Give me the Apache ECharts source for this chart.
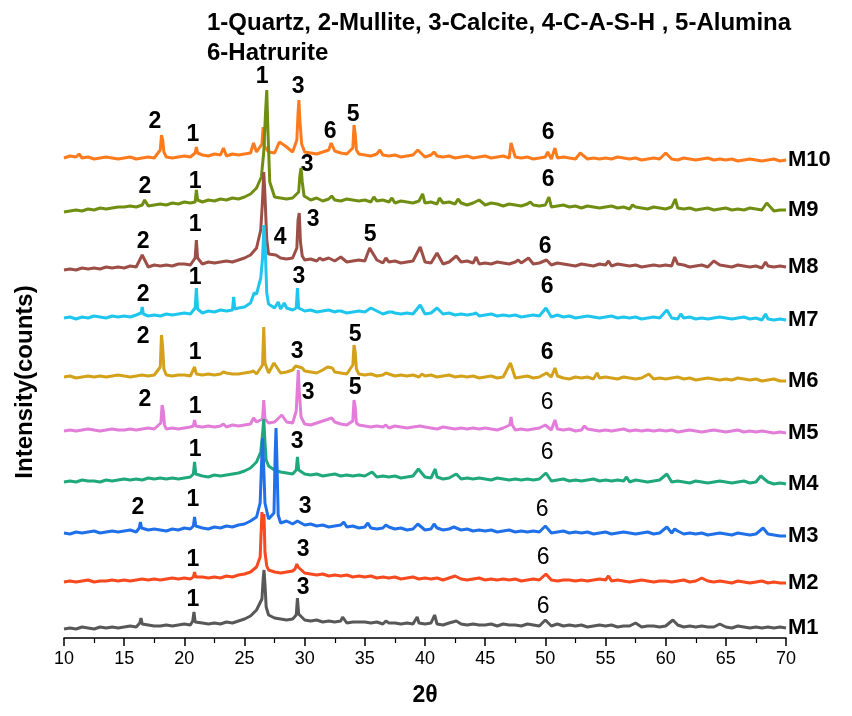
<!DOCTYPE html>
<html>
<head>
<meta charset="utf-8">
<title>XRD patterns M1-M10</title>
<script src="https://cdn.jsdelivr.net/npm/echarts@6/dist/echarts.min.js"></script>
<style>
  html, body { margin: 0; padding: 0; background: #fff; }
  #chart { width: 852px; height: 716px; }
</style>
</head>
<body>
<div id="chart"></div>
<script>
// 2-theta ticks
const xTicks = [10, 15, 20, 25, 30, 35, 40, 45, 50, 55, 60, 65, 70];

const names = ['M1', 'M2', 'M3', 'M4', 'M5', 'M6', 'M7', 'M8', 'M9', 'M10'];
const colors = ['#585858', '#f8491f', '#2070ea', '#1fa87b', '#e27dd9', '#d3a11a', '#1ec6ee', '#9d4e47', '#708f12', '#fd7b1d'];
// vertical stacking offset of each pattern
const offsets = [9, 56, 105, 156, 207, 261, 320, 368, 426, 480];

// background of each pattern, sampled every 0.5 deg from 10 to 70
const m1Base = [
  0,1,0,2,1,0,2,1,2,1, 2,3,2,3,4,3,3,4,3,4, 5,4,5,6,5,6,5,7,6,8, 10,13,19,24,14,11,10,9,10,8,
  9,8,9,7,8,7,8,6,7,7, 7,6,7,5,6,6,5,6,5,6, 5,6,5,4,6,4,5,4,5,4, 4,5,3,5,4,4,3,5,4,3,
  4,3,5,3,4,3,4,2,3,4, 3,4,2,3,3,4,2,3,3,2, 3,2,4,2,3,2,3,2,2,3, 2,1,3,2,1,2,1,2,1,2, 1];
const m2Base = [
  0,1,0,1,2,0,1,1,2,1, 2,1,2,3,2,3,2,3,4,3, 4,3,4,5,4,5,4,6,5,7, 8,10,15,20,12,10,9,10,11,13,
  9,8,7,8,6,7,6,7,5,6, 5,6,4,5,4,5,3,4,5,3, 4,3,4,2,4,3,3,2,3,4, 2,3,2,3,2,3,1,2,3,2,
  3,2,1,2,2,1,2,1,2,3, 2,1,2,1,0,1,2,1,0,1, 1,0,1,2,0,1,0,1,0,1, 0,-1,1,0,-1,0,1,-1,0,-1, -1];
const m3Base = [
  0,-1,1,0,1,2,0,1,2,1, 2,3,1,2,3,4,3,2,4,3, 5,4,6,5,4,6,5,7,6,8, 9,12,16,22,14,12,10,12,9,10,
  8,9,7,8,6,7,8,6,7,5, 6,5,4,5,6,4,5,3,4,5, 3,4,5,3,4,2,3,4,2,3, 2,3,1,2,3,1,2,1,2,1,
  2,0,1,2,0,1,0,1,-1,0, 1,-1,0,1,0,-1,0,1,-1,0, 1,0,2,-1,0,-1,0,-2,-1,0, -1,-2,0,-1,-2,-1,0,-1,-2,-3, -3];
const m4Base = [
  0,1,0,2,1,1,0,2,1,2, 3,2,3,2,4,3,4,3,4,3, 4,5,4,6,5,7,6,7,8,9, 11,14,20,26,16,12,10,9,8,9,
  8,7,8,6,7,8,6,7,6,7, 6,7,5,6,5,6,4,5,6,4, 5,4,5,3,4,5,3,4,3,4, 3,2,4,3,2,3,2,3,2,3,
  2,1,2,3,1,2,1,2,3,1, 2,1,2,1,0,2,1,0,1,2, 1,0,1,0,-1,1,0,-1,0,1, 0,-1,0,1,-1,0,-1,0,-2,-1, -2];
const m5Base = [
  0,1,0,1,2,1,0,1,2,1, 1,2,1,2,3,2,1,2,3,2, 3,4,3,4,5,4,5,4,6,5, 6,7,9,12,8,9,7,9,8,6,
  7,6,8,10,12,9,7,6,5,6, 5,4,5,4,3,5,4,3,4,3, 4,3,2,4,3,2,3,2,3,2, 3,2,1,3,2,1,2,1,2,3,
  2,1,2,1,2,0,1,2,1,0, 1,0,1,2,0,1,0,1,0,1, 0,1,-1,0,1,0,-1,0,1,0, -1,0,1,-1,0,-1,0,-1,-2,-1, -2];
const m6Base = [
  0,1,-1,0,1,0,1,0,1,2, 1,0,1,2,1,2,1,2,1,2, 2,1,3,2,3,2,3,4,3,3, 4,5,3,6,4,3,4,5,7,9,
  6,5,4,7,6,5,4,3,4,3, 2,3,1,2,3,1,2,1,2,0, 1,2,0,1,2,0,1,0,1,-1, 0,1,-1,0,1,-1,0,1,-1,0,
  -1,0,1,-1,-2,0,-1,0,-2,-1, 0,-1,-2,0,-1,-2,-1,0,-2,-1, -2,-1,0,-2,-1,-3,-2,-1,-2,-3, -2,-3,-1,-2,-3,-2,-4,-3,-2,-4, -4];
const m7Base = [
  0,1,-1,1,0,2,1,0,2,1, 2,1,3,2,2,3,2,4,3,4, 5,4,6,5,7,6,8,7,9,10, 11,15,24,32,14,10,9,10,8,9,
  7,8,6,7,8,6,7,5,6,7, 6,5,7,4,6,5,4,5,4,5, 4,5,3,4,5,3,4,3,4,2, 3,4,2,3,2,3,1,2,3,2,
  2,1,3,1,2,0,1,2,1,0, 1,2,0,1,0,1,-1,0,1,0, 1,0,-1,0,1,-1,0,-1,0,1, 0,-1,0,1,-1,0,-2,-1,-2,-1, -2];
const m8Base = [
  0,1,0,2,1,2,1,3,2,3, 2,4,3,4,3,5,4,5,4,6, 6,5,7,6,8,7,8,9,8,10, 12,15,22,30,16,13,12,11,12,14,
  10,11,9,10,12,9,10,8,9,10, 9,8,10,7,8,9,7,8,9,8, 8,7,9,6,8,7,8,9,7,6, 7,6,8,7,6,8,7,9,6,7,
  6,5,7,6,5,4,6,5,4,6, 5,4,6,5,4,5,3,4,5,4, 5,4,6,5,3,4,5,3,4,5, 4,3,5,4,3,4,2,4,3,4, 3];
const m9Base = [
  0,1,2,1,3,2,4,3,4,5, 5,6,5,7,6,7,8,7,9,8, 10,9,11,10,12,11,13,12,14,13, 15,18,24,30,18,15,14,13,14,16,
  13,12,14,11,13,12,11,13,12,11, 12,10,11,12,10,9,11,10,9,11, 9,10,8,9,10,8,9,7,9,8, 7,9,8,6,8,7,6,8,7,6,
  7,5,6,7,5,6,4,6,5,4, 5,6,4,5,3,5,4,3,5,4, 3,5,4,3,4,2,3,4,2,3, 4,2,3,2,4,3,2,3,1,2, 2];
const m10Base = [
  0,2,1,0,1,-1,0,1,0,-1, 0,1,-1,0,1,0,2,1,0,1, 2,1,2,3,2,4,3,2,4,3, 4,5,6,8,6,5,7,8,6,7,
  6,5,4,6,8,7,5,4,3,4, 3,2,4,3,2,3,1,2,3,2, 1,3,2,1,2,0,1,2,0,1, 2,0,1,2,0,1,0,1,-1,0,
  1,-1,0,1,0,-1,0,-1,0,-1, 0,-1,1,0,-1,0,-2,-1,0,-1, 0,-1,-2,0,-1,-2,-1,0,-2,-1, -2,-1,-3,-2,-1,-2,-3,-2,-1,-3, -2];

// diffraction peaks [2theta, intensity above the background]
const m1Peaks = [[16.3,6],[16.4,11],[16.5,5],[20.7,8],[20.8,17],[20.9,7],
  [26.45,30],[26.55,50],[26.62,59],[26.7,45],[26.8,22],[29.3,14],[29.4,31],[29.5,15],
  [33.15,12],[36.75,8],[39.35,12],[40.8,14],[42.6,8],[50.0,9],[57.5,6],[60.6,9],[64.5,5]];
const m2Peaks = [[20.75,5],[20.85,10],[20.95,5],
  [26.3,25],[26.4,55],[26.45,70],[26.55,52],[26.62,68],[26.7,30],[26.85,16],
  [29.2,13],[29.35,18],[29.45,15],[42.5,6],[50.05,8],[55.25,6],[63.0,4]];
const m3Peaks = [[16.25,5],[16.35,11],[16.45,5],[20.75,7],[20.85,16],[20.95,7],
  [26.3,30],[26.42,70],[26.5,95],[26.58,72],[26.7,30],
  [27.45,20],[27.55,80],[27.62,105],[27.7,70],[27.8,18],
  [29.4,12],[33.25,11],[35.25,10],[36.75,8],[39.4,9],[40.75,9],[42.4,6],[50.0,7],[60.1,6],[60.75,4],[68.1,5]];
const m4Peaks = [[20.75,8],[20.85,20],[20.95,8],
  [26.35,30],[26.5,48],[26.6,63],[26.7,40],[26.8,22],[29.3,12],[29.4,25],[29.5,12],
  [35.6,10],[39.45,13],[40.85,13],[42.6,8],[50.05,9],[56.75,5],[60.1,8],[67.9,6]];
const m5Peaks = [[18.05,8],[18.15,26],[18.25,20],[18.35,6],[20.75,5],[20.85,11],[20.95,5],
  [23.25,7],[25.75,13],[26.5,12],[26.6,31],[26.7,12],[28.1,16],
  [29.3,20],[29.4,45],[29.47,61],[29.55,40],[29.7,14],[32.25,13],
  [34.0,10],[34.1,31],[34.2,24],[34.3,8],[36.75,6],[39.6,5],
  [47.05,6],[47.15,14],[47.25,6],[50.0,6],[50.8,11],[53.25,5]];
const m6Peaks = [[18.0,10],[18.1,42],[18.2,30],[18.3,8],[20.85,10],[23.25,5],[25.75,6],
  [26.5,12],[26.6,50],[26.7,14],[27.45,14],[29.25,11],[29.55,10],[29.8,9],[31.9,10],[32.3,9],
  [34.0,12],[34.1,32],[34.2,25],[34.3,8],[36.75,4],[39.75,3],[47.1,14],[50.1,4],[50.8,9],[54.3,4],[58.6,3]];
const m7Peaks = [[16.4,5],[16.5,11],[16.6,4],[20.9,10],[21.0,30],[21.1,9],[24.0,8],[24.1,21],[24.2,9],
  [25.8,25],[26.35,40],[26.5,60],[26.62,93],[26.72,70],[26.85,25],[27.8,16],[28.3,15],
  [29.3,10],[29.4,30],[29.5,10],[32.75,7],[35.5,10],[37.25,6],[39.6,13],[41.0,10],[44.25,5],
  [50.05,10],[60.1,8],[61.25,4],[68.3,4]];
const m8Peaks = [[16.5,15],[20.9,12],[21.0,30],[21.1,12],
  [26.35,40],[26.5,70],[26.6,98],[26.7,75],[26.85,30],[27.6,15],
  [29.35,22],[29.45,50],[29.55,57],[29.65,28],[29.8,14],[31.25,12],[33.0,13],[35.4,22],[36.75,12],
  [39.6,23],[41.0,17],[42.6,14],[44.25,13],[47.75,10],[48.6,12],[50.1,10],[55.25,9],[60.75,13],[64.0,9],[68.3,8]];
const m9Peaks = [[16.7,12],[20.9,10],[21.0,22],[21.1,12],
  [26.4,35],[26.6,60],[26.75,100],[26.85,122],[26.95,80],[27.1,30],
  [29.5,20],[29.6,36],[29.7,44],[29.8,30],[29.95,16],[32.25,16],[35.75,15],[37.25,14],
  [39.8,18],[41.2,14],[42.75,13],[44.5,12],[48.75,10],[50.3,15],[57.25,7],[60.8,13],[68.4,9]];
const m10Peaks = [[11.25,4],[18.0,8],[18.1,23],[18.2,18],[18.3,6],[20.9,5],[21.0,11],[21.1,5],
  [23.25,10],[25.75,15],[26.45,14],[26.55,31],[26.65,12],[27.9,16],[28.4,12],
  [29.35,18],[29.45,45],[29.52,58],[29.6,38],[29.75,14],[32.2,15],
  [34.0,10],[34.1,33],[34.2,24],[34.3,8],[36.25,8],[39.4,8],[40.75,6],
  [47.15,15],[50.2,6],[50.8,10],[52.9,5],[60.0,5]];

const bases = [m1Base, m2Base, m3Base, m4Base, m5Base, m6Base, m7Base, m8Base, m9Base, m10Base];
const peaks = [m1Peaks, m2Peaks, m3Peaks, m4Peaks, m5Peaks, m6Peaks, m7Peaks, m8Peaks, m9Peaks, m10Peaks];

// phase numbers written over the peaks [2theta, height, text, bold]
const peakLabels = [
  [17.56,516,'2',1],[20.72,503,'1',1],[26.46,561,'1',1],[29.45,551,'3',1],[32.11,506,'6',1],[34.02,523,'5',1],[50.23,505,'6',1],
  [16.73,451,'2',1],[20.89,456,'1',1],[30.2,473,'3',1],[50.23,458,'6',1],
  [16.57,396,'2',1],[20.89,413,'1',1],[27.96,400,'4',1],[30.7,418,'3',1],[35.44,403,'5',1],[49.98,391,'6',1],
  [16.57,343,'2',1],[20.89,360,'1',1],[29.53,361,'3',1],[50.15,351,'6',1],
  [16.57,301,'2',1],[20.89,285,'1',1],[29.37,286,'3',1],[34.19,303,'5',1],[50.15,285,'6',1],
  [16.73,238,'2',1],[20.89,231,'1',1],[30.28,245,'3',1],[34.19,250,'5',1],[50.15,235,'6',0],
  [20.89,188,'1',1],[29.37,196,'3',1],[50.15,185,'6',0],
  [16.15,130,'2',1],[20.72,138,'1',1],[30.03,131,'3',1],[49.73,128,'6',0],
  [20.72,78,'1',1],[29.87,88,'3',1],[49.82,80,'6',0],
  [20.72,38,'1',1],[29.87,50,'3',1],[49.82,31,'6',0]
];

const font = 'Liberation Sans, Arial, sans-serif';

function buildPattern(base, pk, offset) {
  const pts = base.map((v, i) => [xTicks[0] + i * 0.5, v]);
  const keep = pts.filter(p => !pk.some(q => Math.abs(q[0] - p[0]) < 0.12));
  return keep.concat(pk).sort((a, b) => a[0] - b[0]).map(p => [p[0], p[1] + offset]);
}

const series = [];
for (let k = names.length - 1; k >= 0; k--) {
  series.push({
    name: names[k],
    type: 'line',
    data: buildPattern(bases[k], peaks[k], offsets[k]),
    showSymbol: false,
    silent: true,
    lineStyle: { color: colors[k], width: 3 },
    endLabel: {
      show: true,
      formatter: names[k],
      distance: 2,
      color: '#000',
      fontSize: 22,
      fontWeight: 'bold',
      fontFamily: font
    }
  });
}

series.push({
  type: 'scatter',
  symbolSize: 0,
  silent: true,
  itemStyle: { opacity: 1 },
  data: peakLabels.map(d => ({
    value: [d[0], d[1]],
    label: { formatter: d[2], fontWeight: d[3] ? 'bold' : 'normal', fontSize: 23 }
  })),
  label: {
    show: true,
    position: 'inside',
    color: '#000',
    textBorderWidth: 0,
    fontSize: 23,
    fontFamily: font
  }
});

const chart = echarts.init(document.getElementById('chart'));
chart.setOption({
  animation: false,
  backgroundColor: '#fff',
  grid: { left: 64, right: 66, top: 60, bottom: 78 },
  xAxis: {
    type: 'value',
    min: 10,
    max: 70,
    interval: 5,
    name: '2θ',
    nameLocation: 'middle',
    nameGap: 46,
    nameTextStyle: { fontSize: 23, fontWeight: 'bold', color: '#000', fontFamily: font },
    axisLine: { lineStyle: { color: '#000', width: 1.5 } },
    axisTick: { length: 8, lineStyle: { color: '#000', width: 1.5 } },
    minorTick: { show: true, splitNumber: 2, length: 5, lineStyle: { color: '#000', width: 1.2 } },
    axisLabel: { fontSize: 18, color: '#000', margin: 12, fontFamily: 'Liberation Sans Narrow, Liberation Sans, Arial, sans-serif' },
    splitLine: { show: false }
  },
  yAxis: {
    type: 'value',
    min: 0,
    max: 578,
    show: false
  },
  graphic: [
    {
      type: 'text', left: 207, top: 11,
      style: { text: '1-Quartz, 2-Mullite, 3-Calcite, 4-C-A-S-H , 5-Alumina', font: 'bold 24px Liberation Sans, Arial', fill: '#000' }
    },
    {
      type: 'text', left: 207, top: 41,
      style: { text: '6-Hatrurite', font: 'bold 24px Liberation Sans, Arial', fill: '#000' }
    },
    {
      type: 'text', x: 25, y: 382, rotation: Math.PI / 2,
      style: { text: 'Intensity(counts)', font: 'bold 24px Liberation Sans, Arial', fill: '#000', align: 'center', verticalAlign: 'middle' }
    }
  ],
  series: series
});
</script>
</body>
</html>
